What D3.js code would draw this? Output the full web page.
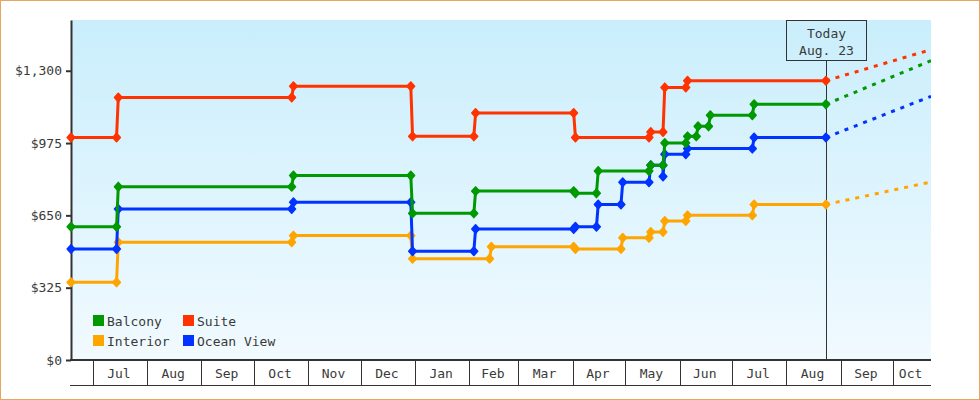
<!DOCTYPE html>
<html>
<head>
<meta charset="utf-8">
<script src="https://cdn.jsdelivr.net/npm/d3@7"></script>
<style>
  body { margin: 0; background: #fff; }
  svg { display: block; font-family: "DejaVu Sans Mono", monospace; font-size: 13px; }
</style>
</head>
<body>
<svg width="980" height="400"></svg>
<script>
const svg = d3.select("svg");
const width = +svg.attr("width");
const height = +svg.attr("height");

const parse = d3.timeParse("%Y-%m-%d");

// price history per cabin type: [date, price]
const balcony = [
  ["2013-06-18", 599], ["2013-07-14", 599], ["2013-07-15", 779],
  ["2013-10-22", 779], ["2013-10-23", 829], ["2013-12-29", 829],
  ["2013-12-30", 659], ["2014-02-03", 659], ["2014-02-04", 759],
  ["2014-04-01", 759], ["2014-04-02", 749], ["2014-04-14", 749],
  ["2014-04-15", 849], ["2014-05-14", 849], ["2014-05-15", 875],
  ["2014-05-22", 875], ["2014-05-23", 975], ["2014-06-04", 975],
  ["2014-06-05", 1005], ["2014-06-10", 1005], ["2014-06-11", 1050],
  ["2014-06-17", 1050], ["2014-06-18", 1100], ["2014-07-12", 1100],
  ["2014-07-13", 1149], ["2014-08-23", 1149]
];

const interior = [
  ["2013-06-18", 349], ["2013-07-14", 349], ["2013-07-15", 529],
  ["2013-10-22", 529], ["2013-10-23", 559], ["2013-12-29", 559],
  ["2013-12-30", 455], ["2014-02-12", 455], ["2014-02-13", 509],
  ["2014-04-01", 509], ["2014-04-02", 499], ["2014-04-28", 499],
  ["2014-04-29", 549], ["2014-05-14", 549], ["2014-05-15", 575],
  ["2014-05-22", 575], ["2014-05-23", 625], ["2014-06-04", 625],
  ["2014-06-05", 650], ["2014-07-12", 650], ["2014-07-13", 699],
  ["2014-08-23", 699]
];

const oceanView = [
  ["2013-06-18", 499], ["2013-07-14", 499], ["2013-07-15", 679],
  ["2013-10-22", 679], ["2013-10-23", 709], ["2013-12-29", 709],
  ["2013-12-30", 489], ["2014-02-03", 489], ["2014-02-04", 589],
  ["2014-04-01", 589], ["2014-04-02", 599], ["2014-04-14", 599],
  ["2014-04-15", 699], ["2014-04-28", 699], ["2014-04-29", 799],
  ["2014-05-14", 799], ["2014-05-15", 875], ["2014-05-22", 875],
  ["2014-05-22", 825], ["2014-05-23", 925], ["2014-06-04", 925],
  ["2014-06-05", 950], ["2014-07-12", 950], ["2014-07-13", 1000],
  ["2014-08-23", 1000]
];

const suite = [
  ["2013-06-18", 1000], ["2013-07-14", 1000], ["2013-07-15", 1180],
  ["2013-10-22", 1180], ["2013-10-23", 1230], ["2013-12-29", 1230],
  ["2013-12-30", 1005], ["2014-02-03", 1005], ["2014-02-04", 1110],
  ["2014-04-01", 1110], ["2014-04-02", 1000], ["2014-05-14", 1000],
  ["2014-05-15", 1025], ["2014-05-22", 1025], ["2014-05-23", 1225],
  ["2014-06-04", 1225], ["2014-06-05", 1255], ["2014-08-23", 1255]
];

// draw order (later ones on top)
const names = ["Interior", "Ocean View", "Balcony", "Suite"];
const histories = [interior, oceanView, balcony, suite];
const forecastValues = [800, 1185, 1345, 1395];
const colors = ["#ffa500", "#0033ff", "#009900", "#ff3300"];

const startDate = "2013-06-18";
const today = "2014-08-23";
const endDate = "2014-10-22";
const todayLabel = ["Today", "Aug. 23"];

const yTicks = [0, 325, 650, 975, 1300];
const yMax = 1528;

// legend layout: rows of names
const legendRows = [["Balcony", "Suite"], ["Interior", "Ocean View"]];

const plotLeft = 71, plotRight = 931, plotTop = 20, plotBottom = 360, axisBottom = 385;
const textColor = "#3a3a3a";

const x = d3.scaleTime()
  .domain([parse(startDate), parse(endDate)])
  .range([plotLeft, plotRight]);

const y = d3.scaleLinear()
  .domain([0, yMax])
  .range([plotBottom, plotTop]);

const colorOf = d3.scaleOrdinal().domain(names).range(colors);

// background gradient
const defs = svg.append("defs");
const grad = defs.append("linearGradient")
  .attr("id", "bg")
  .attr("x1", 0).attr("y1", 0).attr("x2", 0).attr("y2", 1);
grad.append("stop").attr("offset", "0%").attr("stop-color", "#caeefc");
grad.append("stop").attr("offset", "100%").attr("stop-color", "#f1faff");

defs.append("clipPath").attr("id", "plot")
  .append("rect")
  .attr("x", plotLeft).attr("y", plotTop)
  .attr("width", plotRight - plotLeft).attr("height", plotBottom - plotTop);

svg.append("rect")
  .attr("x", 0.5).attr("y", 0.5)
  .attr("width", width - 1).attr("height", height - 1)
  .attr("fill", "#fff")
  .attr("stroke", "#e6a662");

svg.append("rect")
  .attr("x", plotLeft).attr("y", plotTop)
  .attr("width", plotRight - plotLeft).attr("height", plotBottom - plotTop)
  .attr("fill", "url(#bg)");

// month boxes under the plot
const months = d3.timeMonth.range(x.domain()[0], x.domain()[1]);
const edges = [x.domain()[0]].concat(months).concat([x.domain()[1]]);

const xAxis = svg.append("g").attr("class", "x-axis");

xAxis.append("line")
  .attr("x1", plotLeft - 1).attr("x2", plotRight)
  .attr("y1", plotBottom).attr("y2", plotBottom)
  .attr("stroke", "#333").attr("stroke-width", 2);

xAxis.append("line")
  .attr("x1", plotLeft - 1).attr("x2", plotRight)
  .attr("y1", axisBottom + 0.5).attr("y2", axisBottom + 0.5)
  .attr("stroke", "#333").attr("stroke-width", 1);

xAxis.selectAll(".sep")
  .data(months)
  .enter()
  .append("line")
  .attr("class", "sep")
  .attr("x1", d => Math.round(x(d)) - 0.5)
  .attr("x2", d => Math.round(x(d)) - 0.5)
  .attr("y1", plotBottom).attr("y2", axisBottom)
  .attr("stroke", "#333");

const boxes = d3.pairs(edges).filter(p => x(p[1]) - x(p[0]) > 30);

xAxis.selectAll(".mlabel")
  .data(boxes)
  .enter()
  .append("text")
  .attr("class", "mlabel")
  .attr("x", p => (x(p[0]) + x(p[1])) / 2 - 2)
  .attr("y", 377.5)
  .attr("text-anchor", "middle")
  .attr("fill", textColor)
  .text(p => d3.timeFormat("%b")(p[0]));

// y axis
const yAxis = svg.append("g")
  .attr("transform", `translate(${plotLeft},0)`)
  .call(d3.axisLeft(y)
    .tickValues(yTicks)
    .tickFormat(d3.format("$,"))
    .tickSize(5)
    .tickSizeOuter(0)
    .tickPadding(4));

yAxis.select(".domain").attr("stroke", "#333").attr("stroke-width", 2);
yAxis.selectAll(".tick line").attr("stroke", "#333").attr("stroke-width", 2);
yAxis.selectAll(".tick text")
  .attr("fill", textColor)
  .style("font-family", "DejaVu Sans Mono, monospace")
  .style("font-size", "13px");

// today marker
const tx = Math.round(x(parse(today))) + 0.5;

svg.append("line")
  .attr("x1", tx).attr("x2", tx)
  .attr("y1", plotTop + 40).attr("y2", plotBottom)
  .attr("stroke", "#333");

svg.append("rect")
  .attr("x", tx - 40).attr("y", plotTop + 0.5)
  .attr("width", 80).attr("height", 40)
  .attr("fill", "none")
  .attr("stroke", "#333");

svg.selectAll(".today-label")
  .data(todayLabel)
  .enter()
  .append("text")
  .attr("class", "today-label")
  .attr("x", tx)
  .attr("y", (d, i) => 37.5 + i * 17.5)
  .attr("text-anchor", "middle")
  .attr("fill", textColor)
  .text(d => d);

// series
const line = d3.line()
  .x(d => x(parse(d[0])))
  .y(d => y(d[1]));

const diamond = "M0,-4.2L3.8,0L0,4.2L-3.8,0Z";

// only the projection is clipped to the plot area
const forecastLayer = svg.append("g").attr("clip-path", "url(#plot)");
const seriesLayer = svg.append("g");

names.forEach((name, i) => {
  const data = histories[i];
  const last = data[data.length - 1];

  forecastLayer.append("path")
    .attr("d", line([last, [endDate, forecastValues[i]]]))
    .attr("fill", "none")
    .attr("stroke", colors[i])
    .attr("stroke-width", 3)
    .attr("stroke-dasharray", "4,6");

  const g = seriesLayer.append("g").attr("class", "series");

  g.append("path")
    .attr("d", line(data))
    .attr("fill", "none")
    .attr("stroke", colors[i])
    .attr("stroke-width", 3)
    .attr("stroke-linejoin", "round");

  g.selectAll(".pt")
    .data(data)
    .enter()
    .append("path")
    .attr("class", "pt")
    .attr("d", diamond)
    .attr("transform", d => `translate(${x(parse(d[0]))},${y(d[1])})`)
    .attr("fill", colors[i])
    .attr("stroke", colors[i])
    .attr("stroke-width", 1.6)
    .attr("stroke-linejoin", "round");
});

// legend
const legend = svg.append("g").attr("class", "legend");

legendRows.forEach((row, r) => {
  row.forEach((name, c) => {
    const lx = 93 + c * 90;
    const ly = 315 + r * 20;
    legend.append("rect")
      .attr("x", lx).attr("y", ly)
      .attr("width", 11).attr("height", 11)
      .attr("fill", colorOf(name));
    legend.append("text")
      .attr("x", lx + 14).attr("y", ly + 10.5)
      .attr("fill", textColor)
      .text(name);
  });
});
</script>
</body>
</html>
